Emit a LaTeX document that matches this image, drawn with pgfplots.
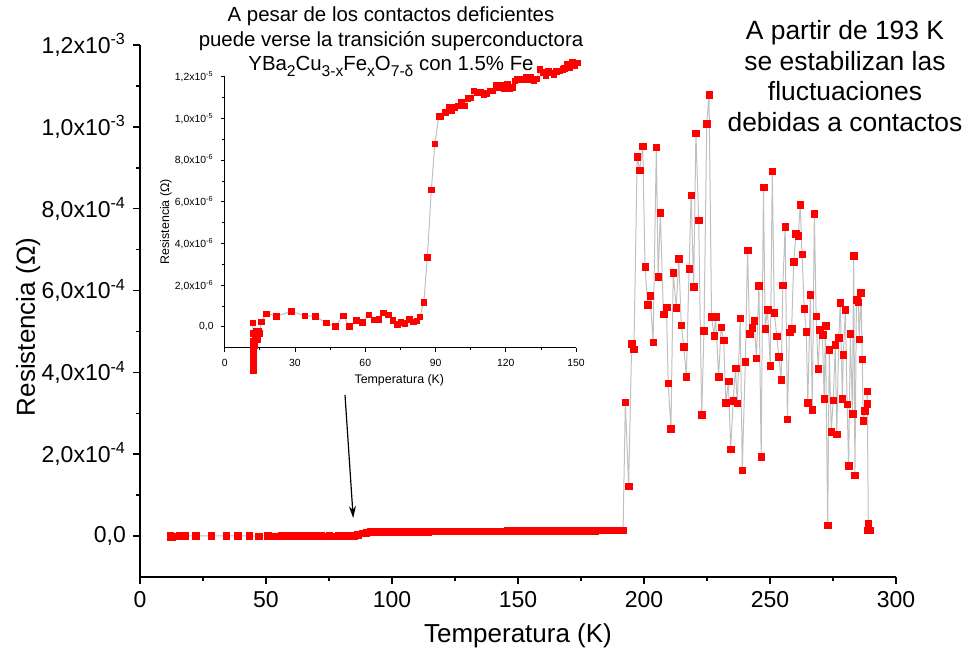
\documentclass[border=0pt]{standalone}
\usepackage{fontspec}
\setmainfont{Liberation Sans}
\usepackage{pgfplots}
\pgfplotsset{compat=1.18}
\usepackage{pgfplotstable}
\usetikzlibrary{arrows.meta}

\definecolor{linea}{RGB}{192,192,192}
\newcommand{\sub}[1]{\raisebox{-0.55ex}{\fontsize{7.8}{8}\selectfont #1}}

% T (K), R (1e-6 Ohm)
\pgfplotstableread{
T R
12.0 0.2
12.1 -0.3
12.0 -0.7
12.2 -1.0
12.1 -1.3
12.2 -1.6
12.1 -1.9
12.2 -2.1
12.4 -1.5
12.6 -0.9
12.9 -0.5
13.3 -0.2
13.8 -0.6
14.3 -0.2
14.9 -0.3
15.5 0.24
17.8 0.64
22.1 0.51
28.3 0.74
34.2 0.54
38.7 0.50
43.3 0.19
47.1 0.03
50.7 0.54
53.2 0.03
56.2 0.32
58.8 0.22
61.5 0.58
63.6 0.34
65.7 0.37
67.7 0.67
69.7 0.58
71.7 0.32
73.6 0.14
75.1 0.21
76.8 0.18
78.7 0.37
80.4 0.24
82.0 0.29
83.3 0.48
85.0 1.18
86.5 3.34
88.2 6.58
89.7 8.78
91.4 10.10
92.1 10.10
94.1 10.30
95.6 10.54
96.9 10.40
98.2 10.54
99.6 10.60
100.9 10.80
102.5 10.60
103.7 10.96
105.0 11.00
106.3 11.33
107.7 11.25
109.1 11.28
110.6 11.14
111.9 11.22
113.1 11.33
114.3 11.33
115.7 11.58
117.0 11.50
118.3 11.58
119.3 11.46
120.5 11.65
121.5 11.44
122.8 11.49
123.8 11.81
124.8 11.89
125.8 11.87
127.1 11.86
128.4 12.00
129.5 11.87
130.6 12.00
131.9 11.84
133.2 11.90
134.5 12.35
135.8 12.22
137.0 12.08
138.2 12.27
139.3 12.19
140.5 12.13
141.6 12.27
142.9 12.29
144.2 12.37
145.0 12.40
146.0 12.60
147.3 12.46
148.3 12.70
149.3 12.56
150.7 12.67
}\bajaT

\pgfplotstableread{
T R
150.7 12.67
152.0 12.6
153.3 12.8
154.6 12.7
155.9 12.9
157.2 12.9
158.5 13.0
159.8 12.9
161.1 13.1
162.4 13.1
163.7 13.2
165.0 13.1
166.3 13.3
167.6 13.3
168.9 13.4
170.2 13.3
171.5 13.5
172.8 13.5
174.1 13.6
175.4 13.5
176.7 13.7
178.0 13.7
179.3 13.8
180.6 13.7
181.9 13.9
183.2 13.9
184.5 14.0
185.8 13.9
187.1 14.1
188.4 14.1
189.7 14.2
191.0 14.2
191.7 14.3
192.6 327.6
193.9 122.2
195.1 469.4
196.0 456.5
197.3 927.4
198.3 894.1
199.5 952.8
200.4 657.7
201.5 564.8
202.4 586.8
203.6 473.6
204.9 950.4
205.6 634.0
206.5 789.7
207.7 542.0
208.9 559.2
209.6 373.3
210.7 262.3
211.6 643.8
212.8 558.2
213.8 678.0
214.8 515.2
215.8 462.8
216.8 389.5
217.9 652.8
218.7 833.0
219.7 609.5
220.6 984.6
221.7 771.9
222.9 296.6
223.8 502.0
224.9 1007.3
225.8 1079.0
226.8 536.2
227.8 489.0
228.4 536.2
229.6 389.5
230.6 510.3
231.6 478.5
232.5 325.9
233.5 378.2
234.4 212.0
235.4 330.8
236.3 410.0
237.0 324.4
238.2 532.3
239.0 161.4
240.2 425.4
241.1 698.5
241.9 494.6
242.9 509.3
243.7 525.7
244.6 434.5
245.6 611.2
246.5 193.9
247.4 852.6
248.1 506.1
249.0 552.6
250.1 416.9
250.9 891.2
251.7 545.2
252.7 488.5
253.5 437.7
254.4 381.4
255.1 613.0
256.0 756.2
256.9 285.3
257.7 498.0
258.6 507.3
259.4 670.7
260.3 738.4
261.2 733.5
262.0 810.0
262.7 689.0
263.6 556.2
264.4 499.3
265.0 325.2
266.0 589.2
266.8 308.6
267.6 788.0
268.3 537.4
269.1 409.0
269.8 503.7
270.8 491.4
271.5 335.0
272.0 513.4
272.9 26.2
273.5 454.8
274.3 255.5
275.1 332.5
275.9 467.0
276.5 248.7
277.3 485.3
277.9 570.9
278.7 335.7
279.1 442.5
279.9 553.8
280.6 322.7
281.2 171.9
281.9 493.9
282.7 299.5
283.2 685.3
283.7 148.4
284.3 578.2
285.0 571.4
285.4 480.9
286.1 594.9
286.6 432.0
287.0 281.9
287.6 306.4
288.5 324.0
288.6 353.8
289.0 31.1
288.8 14.7
289.7 14.7
}\altaT

\pgfplotsset{
  serie/.style={color=linea, line width=0.5pt, mark=square*,
    mark options={solid, draw=red, fill=red, line width=0.2pt}},
}

\begin{document}
\begin{tikzpicture}
\useasboundingbox (-70pt,-40.5pt) rectangle (411.5pt,288.5pt);

% main axis
\begin{axis}[
  at={(0pt,0pt)}, anchor=south west,
  scale only axis, width=378pt, height=266pt,
  xmin=0, xmax=300, ymin=-100, ymax=1200,
  axis x line*=bottom, axis y line*=left,
  axis line style={-, line width=1pt},
  tick align=outside,
  major tick length=3.5pt, minor tick length=2pt,
  every tick/.style={black, line width=0.8pt},
  xtick={0,50,...,300}, xticklabels={0,50,100,150,200,250,300},
  ytick={0,200,...,1200},
  yticklabels={{0,0},{2,0x10\textsuperscript{-4}},{4,0x10\textsuperscript{-4}},{6,0x10\textsuperscript{-4}},{8,0x10\textsuperscript{-4}},{1,0x10\textsuperscript{-3}},{1,2x10\textsuperscript{-3}}},
  minor x tick num=1, minor y tick num=1,
  tick label style={font=\fontsize{11.5}{13}\selectfont},
  xlabel={Temperatura (K)}, ylabel={Resistencia (Ω)},
  label style={font=\fontsize{13}{15}\selectfont},
  xlabel style={at={(axis description cs:0.5,-0.111)}, anchor=center},
  ylabel style={at={(axis description cs:-0.148,0.47)}, anchor=center},
]
\addplot[serie, mark size=1.65pt] table[x=T, y=R] {\bajaT};
\addplot[serie, mark size=1.65pt] table[x=T, y=R] {\altaT};
\end{axis}

% inset
\begin{axis}[
  at={(42.35pt,114.65pt)}, anchor=south west,
  scale only axis, width=175.7pt, height=135.5pt,
  xmin=0, xmax=150, ymin=-1, ymax=12,
  clip=false,
  axis x line*=bottom, axis y line*=left,
  axis line style={-, line width=0.5pt},
  tick align=outside,
  major tick length=2pt, minor tick length=1.2pt,
  every tick/.style={black, line width=0.4pt},
  xtick={0,30,...,150}, xticklabels={0,30,60,90,120,150},
  ytick={0,2,...,12},
  yticklabels={{0,0},{2,0x10\textsuperscript{-6}},{4,0x10\textsuperscript{-6}},{6,0x10\textsuperscript{-6}},{8,0x10\textsuperscript{-6}},{1,0x10\textsuperscript{-5}},{1,2x10\textsuperscript{-5}}},
  minor x tick num=1, minor y tick num=1,
  tick label style={font=\fontsize{5.2}{6}\selectfont},
  xlabel={Temperatura (K)}, ylabel={Resistencia (Ω)},
  label style={font=\fontsize{6.2}{7}\selectfont},
  xlabel style={at={(axis description cs:0.497,-0.119)}, anchor=center},
  ylabel style={at={(axis description cs:-0.167,0.465)}, anchor=center},
]
\addplot[serie, mark size=1.4pt] table[x=T, y=R] {\bajaT};
\end{axis}

% annotations
\node[align=center, font=\fontsize{10.2}{12.3}\selectfont] at (125.5pt,267.6pt)
  {A pesar de los contactos deficientes\\
   puede verse la transición superconductora\\
   YBa\sub{2}Cu\sub{3-x}Fe\sub{x}O\sub{7-δ} con 1.5\% Fe};
\node[align=center, font=\fontsize{13.2}{15.3}\selectfont] at (352.5pt,250.5pt)
  {A partir de 193 K\\ se estabilizan las\\ fluctuaciones\\ debidas a contactos};
\draw[black, line width=0.6pt, -{Stealth[length=6pt, width=3.5pt]}] (102.5pt,91pt) -- (106.6pt,29.5pt);
\end{tikzpicture}
\end{document}
